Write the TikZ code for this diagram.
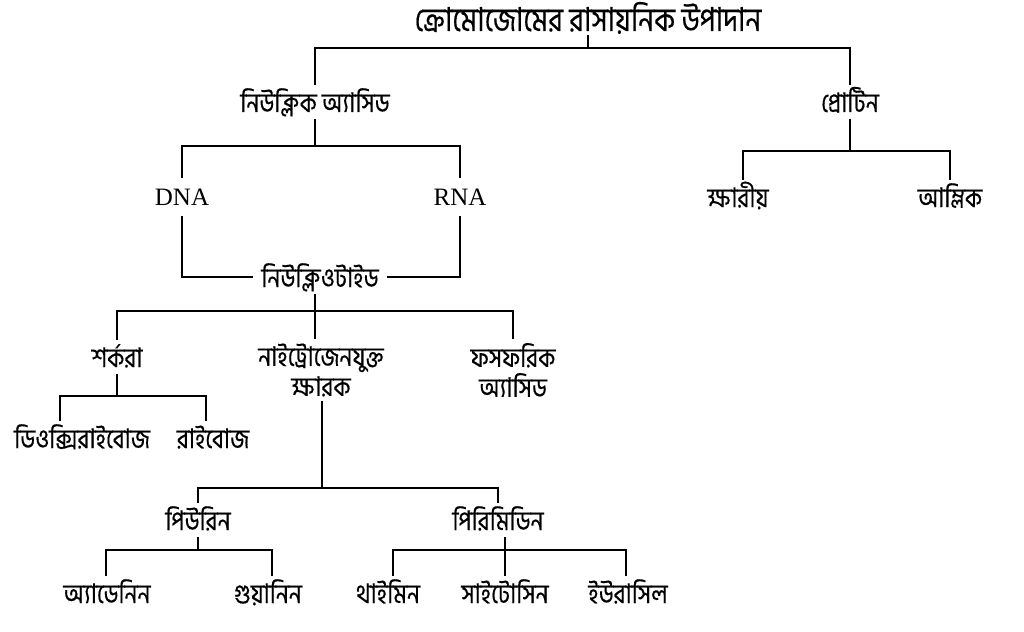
\documentclass[tikz,border=0pt]{standalone}
\usepackage{fontspec}
\newfontfamily\bnfont[Script=Bengali, FakeStretch=0.85, FakeBold=0.4]{Hind Siliguri}
\newfontfamily\lsfont{Liberation Serif}
\usetikzlibrary{positioning}

\begin{document}
\begin{tikzpicture}
[
x=1pt, y=-1pt,
word-a/.style={font=\bnfont\fontsize{27}{30}\selectfont, text height=22pt, text depth=2pt, inner ysep=5pt, inner xsep=8pt, align=center},
word-b/.style={font=\bnfont\fontsize{27}{30}\selectfont, inner ysep=4pt, inner xsep=8pt, align=center},
word-c/.style={font=\lsfont\fontsize{25}{28}\selectfont, text height=17pt, text depth=1pt, inner ysep=10pt},
word-t/.style={word-a, font=\bnfont\fontsize{33}{36}\selectfont, text height=24pt, text depth=2pt, inner ysep=2pt},
link-a/.style={draw, line width=1.4pt}
]
\useasboundingbox [fill=white] (0,0) rectangle (1024,631);

% level 0 and 1
\node (title)      [word-t] at (588,20)  {ক্রোমোজোমের রাসায়নিক উপাদান};
\node (nucleic)    [word-a] at (315,102) {নিউক্লিক অ্যাসিড};
\node (protein)    [word-a] at (850,102) {প্রোটিন};
\node (alkaline)   [word-a] at (738,197) {ক্ষারীয়};
\node (acidic)     [word-a] at (950,197) {আম্লিক};
\node (dna)        [word-c] at (182,197) {DNA};
\node (rna)        [word-c] at (460,197) {RNA};
\node (nucleotide) [word-a] at (320,277) {নিউক্লিওটাইড};

% nucleotide parts
\node (sugar)      [word-a] at (117,357) {শর্করা};
\node (base)       [word-b] at (321,370) {নাইট্রোজেনযুক্ত\\ক্ষারক};
\node (phosphoric) [word-b] at (513,370) {ফসফরিক\\অ্যাসিড};
\node (deoxy)      [word-a] at (82,438)  {ডিওক্সিরাইবোজ};
\node (ribose)     [word-a] at (213,438) {রাইবোজ};
\node (purine)     [word-a] at (198,520) {পিউরিন};
\node (pyrimidine) [word-a] at (498,520) {পিরিমিডিন};
\node (adenine)    [word-a] at (107,593) {অ্যাডেনিন};
\node (guanine)    [word-a] at (268,593) {গুয়ানিন};
\node (thymine)    [word-a] at (388,593) {থাইমিন};
\node (cytosine)   [word-a] at (505,593) {সাইটোসিন};
\node (uracil)     [word-a] at (628,593) {ইউরাসিল};

% junctions
\coordinate (j-title)      at (588,48);
\coordinate (j-nucleic)    at (315,146);
\coordinate (j-protein)    at (850,151);
\coordinate (j-nucleotide) at (315,311);
\coordinate (j-sugar)      at (117,396);
\coordinate (j-base)       at (322,488);
\coordinate (j-purine)     at (198,550);
\coordinate (j-pyrimidine) at (505,550);

% connectors
\draw [link-a] (title.south) -- (j-title);
\draw [link-a] (nucleic.north) |- (j-title) -| (protein.north);
\draw [link-a] (nucleic.south) -- (j-nucleic);
\draw [link-a] (dna.north) |- (j-nucleic) -| (rna.north);
\draw [link-a] (protein.south) -- (j-protein);
\draw [link-a] ([xshift=5pt]alkaline.north) |- (j-protein) -| (acidic.north);
\draw [link-a] (dna.south) |- (nucleotide.west);
\draw [link-a] (rna.south) |- (nucleotide.east);
\draw [link-a] (nucleotide.south -| j-nucleotide) -- (j-nucleotide);
\draw [link-a] (sugar.north) |- (j-nucleotide) -| (phosphoric.north);
\draw [link-a] (j-nucleotide) -- (j-nucleotide |- base.north);
\draw [link-a] (sugar.south) -- (j-sugar);
\draw [link-a] ([xshift=-22pt]deoxy.north) |- (j-sugar) -| ([xshift=-7pt]ribose.north);
\draw [link-a] (base.south -| j-base) -- (j-base);
\draw [link-a] (purine.north) |- (j-base) -| (pyrimidine.north);
\draw [link-a] (purine.south) -- (j-purine);
\draw [link-a] ([xshift=-1pt]adenine.north) |- (j-purine) -| ([xshift=4pt]guanine.north);
\draw [link-a] (pyrimidine.south -| cytosine.north) -- (cytosine.north);
\draw [link-a] ([xshift=5pt]thymine.north) |- (j-pyrimidine) -| ([xshift=-2pt]uracil.north);
\end{tikzpicture}
\end{document}
